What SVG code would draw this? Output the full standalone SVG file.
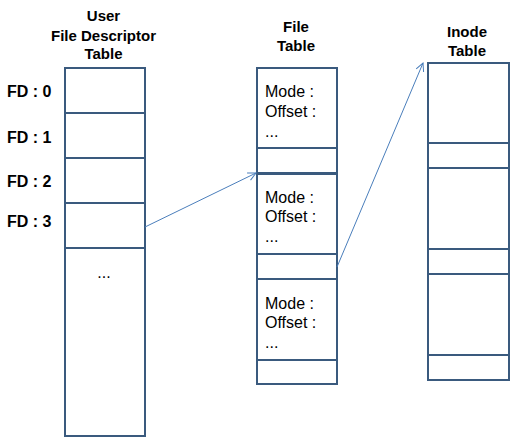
<svg xmlns="http://www.w3.org/2000/svg" width="519" height="444" viewBox="0 0 519 444">
<style>
.box{fill:#fff;stroke:#3a5a7e;stroke-width:2}
.div{stroke:#3a5a7e;stroke-width:2}
.title{font-family:"Liberation Sans",Arial,sans-serif;font-weight:bold;font-size:15px;fill:#000;text-anchor:middle}
.fd{font-family:"Liberation Sans",Arial,sans-serif;font-weight:bold;font-size:16px;fill:#000}
.txt{font-family:"Liberation Sans",Arial,sans-serif;font-size:16px;fill:#000}
.conn{stroke:#4a7ebb;stroke-width:1;fill:none;marker-end:url(#arr)}
</style>
<defs>
<marker id="arr" viewBox="0 0 10 10" refX="9" refY="5" markerWidth="10" markerHeight="10" markerUnits="userSpaceOnUse" orient="auto">
<path d="M1,1 L9,5 L1,9" fill="none" stroke="#4a7ebb" stroke-width="1"/>
</marker>
</defs>
<rect width="519" height="444" fill="#fff"/>
<g id="user-fd-table">
<text class="title" x="103.5" y="21">User</text>
<text class="title" x="103.5" y="41">File Descriptor</text>
<text class="title" x="103.5" y="59">Table</text>
<rect class="box" x="65" y="68" width="80" height="368"/>
<line class="div" x1="65" y1="113" x2="145" y2="113"/>
<line class="div" x1="65" y1="158" x2="145" y2="158"/>
<line class="div" x1="65" y1="203" x2="145" y2="203"/>
<line class="div" x1="65" y1="248" x2="145" y2="248"/>
<text class="fd" x="7" y="97">FD : 0</text>
<text class="fd" x="7" y="143">FD : 1</text>
<text class="fd" x="7" y="187">FD : 2</text>
<text class="fd" x="7" y="227">FD : 3</text>
<text class="txt" x="104" y="278" text-anchor="middle">...</text>
</g>
<g id="file-table">
<text class="title" x="296" y="32">File</text>
<text class="title" x="296" y="51">Table</text>
<g id="file-entry-1">
<rect class="box" x="257" y="68" width="80" height="105"/>
<line class="div" x1="257" y1="148" x2="337" y2="148"/>
<text class="txt" x="265" y="97">Mode :</text>
<text class="txt" x="265" y="117">Offset :</text>
<text class="txt" x="265" y="137">...</text>
</g>
<g id="file-entry-2">
<rect class="box" x="257" y="174" width="80" height="105"/>
<line class="div" x1="257" y1="254" x2="337" y2="254"/>
<text class="txt" x="265" y="203">Mode :</text>
<text class="txt" x="265" y="222">Offset :</text>
<text class="txt" x="265" y="242">...</text>
</g>
<g id="file-entry-3">
<rect class="box" x="257" y="279" width="80" height="105"/>
<line class="div" x1="257" y1="360" x2="337" y2="360"/>
<text class="txt" x="265" y="309">Mode :</text>
<text class="txt" x="265" y="328">Offset :</text>
<text class="txt" x="265" y="348">...</text>
</g>
</g>
<g id="inode-table">
<text class="title" x="467" y="37">Inode</text>
<text class="title" x="467" y="56">Table</text>
<rect class="box" x="428" y="63" width="81" height="317"/>
<line class="div" x1="428" y1="143" x2="509" y2="143"/>
<line class="div" x1="428" y1="168" x2="509" y2="168"/>
<line class="div" x1="428" y1="249" x2="509" y2="249"/>
<line class="div" x1="428" y1="274" x2="509" y2="274"/>
<line class="div" x1="428" y1="355" x2="509" y2="355"/>
</g>
<g id="connectors">
<line class="conn" x1="145" y1="227" x2="256" y2="173"/>
<line class="conn" x1="337" y1="267" x2="423" y2="63"/>
</g>
</svg>
